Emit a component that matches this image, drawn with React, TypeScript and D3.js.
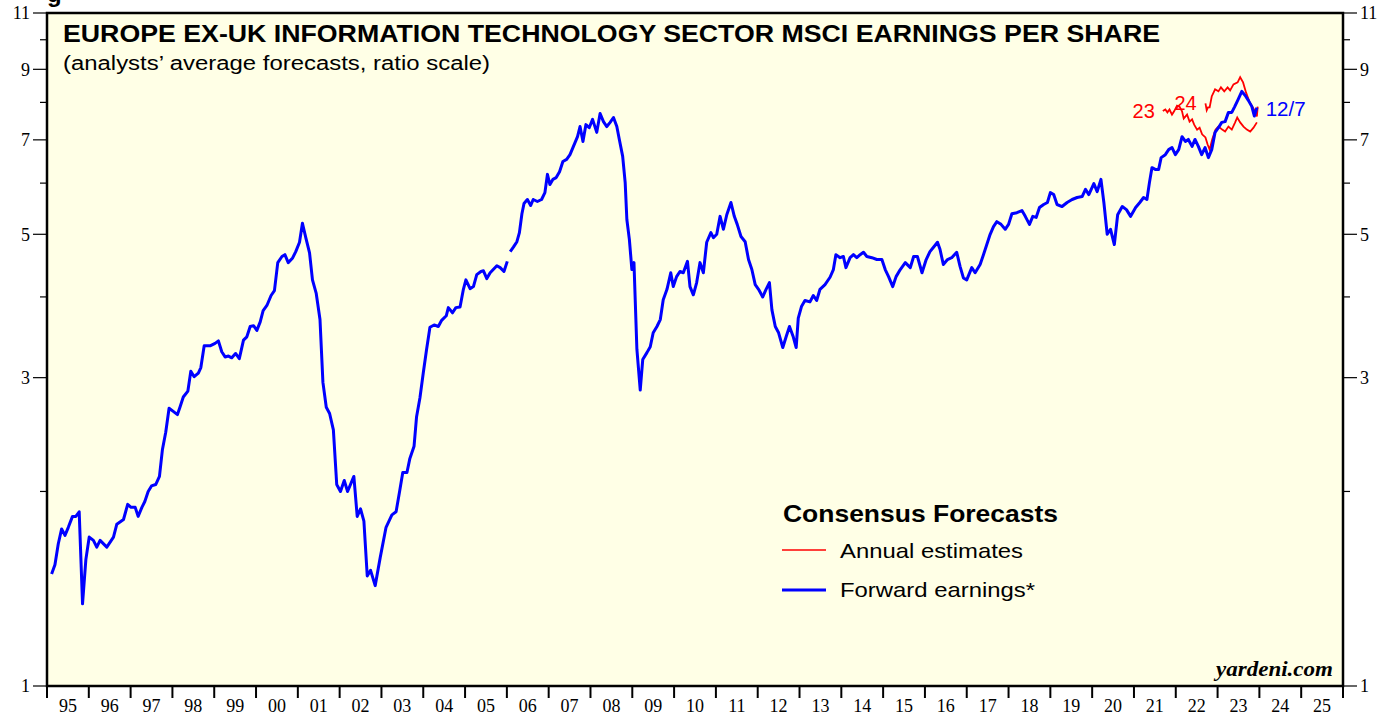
import * as d3 from 'd3';

// [decimal year, EPS]; null marks the break in early 2006
const fwdEarnings: [number, number | null][] = [
  [1995.11, 1.49], [1995.19, 1.54], [1995.27, 1.66], [1995.35, 1.75], [1995.43, 1.71],
  [1995.51, 1.76], [1995.61, 1.83], [1995.69, 1.83], [1995.77, 1.86], [1995.85, 1.34],
  [1995.93, 1.57], [1996.01, 1.70], [1996.11, 1.68], [1996.19, 1.64], [1996.27, 1.68],
  [1996.43, 1.64], [1996.59, 1.70], [1996.67, 1.78], [1996.83, 1.81], [1996.93, 1.91],
  [1997.01, 1.89], [1997.11, 1.89], [1997.18, 1.83], [1997.27, 1.89], [1997.34, 1.93],
  [1997.42, 2.00], [1997.50, 2.04], [1997.60, 2.05], [1997.69, 2.11], [1997.76, 2.32],
  [1997.84, 2.47], [1997.92, 2.69], [1998.02, 2.66], [1998.12, 2.63], [1998.18, 2.70],
  [1998.26, 2.80], [1998.37, 2.86], [1998.44, 3.07], [1998.52, 3.01], [1998.62, 3.05],
  [1998.68, 3.11], [1998.76, 3.36], [1998.90, 3.36], [1999.02, 3.39], [1999.10, 3.42],
  [1999.18, 3.29], [1999.26, 3.23], [1999.34, 3.24], [1999.42, 3.22], [1999.51, 3.27],
  [1999.60, 3.21], [1999.70, 3.43], [1999.78, 3.47], [1999.86, 3.60], [1999.94, 3.61],
  [2000.02, 3.55], [2000.10, 3.66], [2000.17, 3.81], [2000.26, 3.88], [2000.36, 4.02],
  [2000.44, 4.09], [2000.52, 4.52], [2000.62, 4.62], [2000.69, 4.65], [2000.77, 4.52],
  [2000.87, 4.59], [2000.95, 4.70], [2001.04, 4.86], [2001.11, 5.20], [2001.19, 4.94],
  [2001.28, 4.68], [2001.35, 4.25], [2001.44, 4.05], [2001.53, 3.69], [2001.60, 2.95],
  [2001.68, 2.70], [2001.76, 2.64], [2001.85, 2.49], [2001.93, 2.05], [2002.02, 2.00],
  [2002.11, 2.08], [2002.19, 2.00], [2002.34, 2.11], [2002.42, 1.83], [2002.50, 1.88],
  [2002.58, 1.80], [2002.66, 1.48], [2002.74, 1.51], [2002.85, 1.43], [2002.97, 1.58],
  [2003.11, 1.76], [2003.25, 1.84], [2003.35, 1.86], [2003.44, 2.01], [2003.51, 2.14],
  [2003.61, 2.14], [2003.68, 2.25], [2003.78, 2.35], [2003.84, 2.61], [2003.92, 2.79],
  [2004.00, 3.05], [2004.08, 3.32], [2004.16, 3.59], [2004.26, 3.62], [2004.36, 3.60],
  [2004.44, 3.68], [2004.55, 3.74], [2004.60, 3.85], [2004.70, 3.78], [2004.78, 3.85],
  [2004.88, 3.86], [2004.96, 4.11], [2005.02, 4.25], [2005.12, 4.12], [2005.20, 4.15],
  [2005.28, 4.33], [2005.38, 4.38], [2005.44, 4.39], [2005.52, 4.27], [2005.60, 4.36],
  [2005.76, 4.47], [2005.84, 4.44], [2005.93, 4.38], [2006.01, 4.54], [2006.04, null],
  [2006.08, 4.70], [2006.16, 4.78], [2006.24, 4.87], [2006.30, 5.03], [2006.36, 5.38],
  [2006.41, 5.58], [2006.49, 5.66], [2006.57, 5.54], [2006.63, 5.66], [2006.73, 5.62],
  [2006.83, 5.66], [2006.91, 5.80], [2006.97, 6.19], [2007.03, 5.97], [2007.10, 6.08],
  [2007.18, 6.12], [2007.26, 6.25], [2007.34, 6.48], [2007.43, 6.53], [2007.51, 6.64],
  [2007.58, 6.81], [2007.63, 6.93], [2007.69, 7.08], [2007.75, 7.34], [2007.82, 6.96],
  [2007.89, 7.39], [2007.97, 7.31], [2008.05, 7.53], [2008.15, 7.19], [2008.23, 7.69],
  [2008.31, 7.47], [2008.39, 7.34], [2008.47, 7.45], [2008.55, 7.58], [2008.63, 7.34],
  [2008.69, 7.01], [2008.77, 6.60], [2008.83, 6.01], [2008.87, 5.27], [2008.93, 4.91],
  [2008.99, 4.41], [2009.04, 4.52], [2009.11, 3.32], [2009.19, 2.87], [2009.25, 3.20],
  [2009.35, 3.28], [2009.43, 3.35], [2009.50, 3.52], [2009.59, 3.60], [2009.67, 3.69],
  [2009.74, 3.96], [2009.83, 4.11], [2009.92, 4.36], [2009.98, 4.15], [2010.06, 4.30],
  [2010.14, 4.38], [2010.22, 4.36], [2010.32, 4.54], [2010.38, 4.15], [2010.46, 4.03],
  [2010.54, 4.21], [2010.62, 4.52], [2010.70, 4.36], [2010.78, 4.86], [2010.88, 5.03],
  [2010.94, 4.94], [2011.02, 5.00], [2011.10, 5.33], [2011.18, 5.09], [2011.26, 5.36],
  [2011.36, 5.60], [2011.44, 5.33], [2011.51, 5.18], [2011.60, 4.96], [2011.70, 4.87],
  [2011.78, 4.57], [2011.86, 4.41], [2011.94, 4.18], [2012.02, 4.11], [2012.12, 4.00],
  [2012.20, 4.11], [2012.28, 4.21], [2012.34, 3.82], [2012.42, 3.60], [2012.50, 3.52],
  [2012.60, 3.34], [2012.68, 3.47], [2012.76, 3.60], [2012.85, 3.47], [2012.92, 3.34],
  [2012.97, 3.71], [2013.05, 3.87], [2013.13, 3.95], [2013.25, 3.93], [2013.33, 4.02],
  [2013.41, 3.95], [2013.49, 4.11], [2013.61, 4.18], [2013.73, 4.29], [2013.81, 4.41],
  [2013.87, 4.65], [2013.97, 4.60], [2014.05, 4.62], [2014.11, 4.44], [2014.21, 4.60],
  [2014.29, 4.65], [2014.37, 4.60], [2014.45, 4.65], [2014.53, 4.69], [2014.61, 4.62],
  [2014.73, 4.60], [2014.85, 4.57], [2014.97, 4.57], [2015.05, 4.41], [2015.13, 4.30],
  [2015.23, 4.15], [2015.31, 4.30], [2015.41, 4.41], [2015.53, 4.52], [2015.65, 4.44],
  [2015.73, 4.62], [2015.82, 4.62], [2015.93, 4.36], [2016.03, 4.57], [2016.12, 4.70],
  [2016.20, 4.77], [2016.30, 4.86], [2016.36, 4.74], [2016.44, 4.49], [2016.54, 4.57],
  [2016.64, 4.60], [2016.76, 4.69], [2016.84, 4.46], [2016.92, 4.28], [2017.00, 4.25],
  [2017.12, 4.44], [2017.20, 4.36], [2017.32, 4.49], [2017.40, 4.65], [2017.48, 4.82],
  [2017.56, 5.00], [2017.64, 5.14], [2017.72, 5.23], [2017.82, 5.18], [2017.92, 5.09],
  [2018.00, 5.18], [2018.08, 5.38], [2018.20, 5.40], [2018.32, 5.44], [2018.40, 5.33],
  [2018.50, 5.18], [2018.58, 5.33], [2018.66, 5.31], [2018.74, 5.50], [2018.84, 5.56],
  [2018.93, 5.60], [2019.00, 5.80], [2019.08, 5.76], [2019.16, 5.56], [2019.28, 5.52],
  [2019.40, 5.60], [2019.52, 5.66], [2019.64, 5.70], [2019.76, 5.72], [2019.84, 5.87],
  [2019.92, 5.76], [2020.04, 5.99], [2020.12, 5.82], [2020.21, 6.08], [2020.28, 5.60],
  [2020.36, 5.00], [2020.44, 5.09], [2020.53, 4.82], [2020.61, 5.36], [2020.72, 5.52],
  [2020.82, 5.46], [2020.92, 5.33], [2021.04, 5.50], [2021.14, 5.60], [2021.23, 5.70],
  [2021.31, 5.66], [2021.37, 6.01], [2021.43, 6.34], [2021.51, 6.30], [2021.59, 6.30],
  [2021.65, 6.57], [2021.75, 6.64], [2021.83, 6.76], [2021.91, 6.81], [2021.99, 6.64],
  [2022.07, 6.76], [2022.15, 7.08], [2022.23, 6.96], [2022.30, 7.01], [2022.39, 6.84],
  [2022.46, 7.01], [2022.54, 6.84], [2022.62, 6.64], [2022.70, 6.81], [2022.78, 6.57],
  [2022.86, 6.76], [2022.94, 7.19], [2023.02, 7.31], [2023.10, 7.45], [2023.18, 7.47],
  [2023.26, 7.72], [2023.34, 7.72], [2023.41, 7.88], [2023.49, 8.08], [2023.58, 8.32],
  [2023.66, 8.20], [2023.74, 8.05], [2023.82, 7.88], [2023.88, 7.62], [2023.94, 7.85],
];

const est2023: [number, number][] = [
  [2021.69, 7.76], [2021.75, 7.80], [2021.80, 7.72], [2021.85, 7.80], [2021.91, 7.66],
  [2021.96, 7.75], [2022.03, 7.91], [2022.09, 7.88], [2022.15, 7.75], [2022.19, 7.55],
  [2022.27, 7.66], [2022.33, 7.47], [2022.39, 7.53], [2022.44, 7.39], [2022.51, 7.26],
  [2022.57, 7.31], [2022.63, 7.14], [2022.71, 7.06], [2022.76, 6.89], [2022.81, 6.76],
  [2022.87, 7.01], [2022.95, 7.26], [2023.02, 7.34], [2023.11, 7.26], [2023.18, 7.21],
  [2023.26, 7.34], [2023.34, 7.26], [2023.42, 7.45], [2023.47, 7.58], [2023.54, 7.45],
  [2023.62, 7.34], [2023.70, 7.26], [2023.78, 7.21], [2023.86, 7.31], [2023.94, 7.45],
];

const est2024: [number, number][] = [
  [2022.71, 7.97], [2022.74, 7.78], [2022.77, 7.86], [2022.81, 7.86], [2022.86, 8.17],
  [2022.94, 8.38], [2023.02, 8.32], [2023.08, 8.44], [2023.16, 8.32], [2023.24, 8.44],
  [2023.30, 8.35], [2023.38, 8.53], [2023.48, 8.59], [2023.54, 8.75], [2023.61, 8.59],
  [2023.68, 8.29], [2023.76, 8.02], [2023.84, 7.86], [2023.90, 7.75], [2023.94, 7.61],
  [2023.96, 7.88],
];

const years = d3.range(1995, 2026);
const majorTicks = [1, 3, 5, 7, 9, 11];
const minorTicks = [2, 4, 6, 8, 10];

const W = 1398;
const H = 717;
const left = 47;
const right = 1343;
const top = 13;
const bottom = 686;

const serif = '"Liberation Serif", "Times New Roman", serif';
const sans = '"Liberation Sans", Arial, sans-serif';

export default function App() {
  const x = d3.scaleLinear().domain([1995, 2026]).range([left, right]);
  const y = d3.scaleLog().domain([1, 11]).range([bottom, top]);

  const line = d3
    .line<[number, number | null]>()
    .defined(d => d[1] != null)
    .x(d => x(d[0]))
    .y(d => y(d[1] as number));

  return (
    <svg width={W} height={H} style={{ position: 'absolute', left: 0, top: 0, background: '#fff' }}>
      <text x={47} y={2} fontFamily={sans} fontWeight="bold" fontSize={24} fill="#000">g</text>
      <rect x={left} y={top} width={right - left} height={bottom - top} fill="#ffffe6" />

      {/* y axis ticks, both sides */}
      {majorTicks.map(t => (
        <g key={'M' + t}>
          <line x1={left - 14} x2={left} y1={y(t)} y2={y(t)} stroke="#000" strokeWidth={1.2} />
          <line x1={right} x2={right + 14} y1={y(t)} y2={y(t)} stroke="#000" strokeWidth={1.2} />
          <text x={left - 17} y={y(t)} dy="0.35em" textAnchor="end" fontFamily={serif} fontSize={18}>{t}</text>
          <text x={right + 17} y={y(t)} dy="0.35em" textAnchor="start" fontFamily={serif} fontSize={18}>{t}</text>
        </g>
      ))}
      {minorTicks.map(t => (
        <g key={'m' + t}>
          <line x1={left - 7} x2={left} y1={y(t)} y2={y(t)} stroke="#000" strokeWidth={1.2} />
          <line x1={right} x2={right + 7} y1={y(t)} y2={y(t)} stroke="#000" strokeWidth={1.2} />
        </g>
      ))}

      {/* x axis */}
      {years.concat([2026]).map(yr => (
        <line key={'t' + yr} x1={x(yr)} x2={x(yr)} y1={bottom} y2={bottom + 12} stroke="#000" strokeWidth={2} />
      ))}
      {years.map(yr => (
        <text key={'l' + yr} x={x(yr + 0.5)} y={712} textAnchor="middle" fontFamily={serif} fontSize={18}>
          {String(yr % 100).padStart(2, '0')}
        </text>
      ))}

      <text x={63} y={42} fontFamily={sans} fontWeight="bold" fontSize={23} textLength={1097} lengthAdjust="spacingAndGlyphs">
        EUROPE EX-UK INFORMATION TECHNOLOGY SECTOR MSCI EARNINGS PER SHARE
      </text>
      <text x={63} y={70} fontFamily={sans} fontSize={20} textLength={427} lengthAdjust="spacingAndGlyphs">
        (analysts’ average forecasts, ratio scale)
      </text>

      <path d={line(est2023) || ''} fill="none" stroke="#ff0000" strokeWidth={1.8} />
      <path d={line(est2024) || ''} fill="none" stroke="#ff0000" strokeWidth={1.8} />
      <path d={line(fwdEarnings) || ''} fill="none" stroke="#0000ff" strokeWidth={3} strokeLinejoin="round" />

      <text x={x(2021.5)} y={y(7.75)} dy="0.35em" textAnchor="end" fontFamily={sans} fontSize={20} fill="#ff0000">23</text>
      <text x={x(2022.5)} y={y(7.97)} dy="0.35em" textAnchor="end" fontFamily={sans} fontSize={20} fill="#ff0000">24</text>
      <text x={x(2024.15)} y={y(7.8)} dy="0.35em" textAnchor="start" fontFamily={sans} fontSize={20} fill="#0000ff" textLength={40} lengthAdjust="spacingAndGlyphs">12/7</text>

      {/* legend */}
      <text x={783} y={522} fontFamily={sans} fontWeight="bold" fontSize={24} textLength={275} lengthAdjust="spacingAndGlyphs">Consensus Forecasts</text>
      <line x1={782} x2={826} y1={550} y2={550} stroke="#ff0000" strokeWidth={1.6} />
      <text x={840} y={558} fontFamily={sans} fontSize={21} textLength={183} lengthAdjust="spacingAndGlyphs">Annual estimates</text>
      <line x1={782} x2={826} y1={590} y2={590} stroke="#0000ff" strokeWidth={3} />
      <text x={840} y={597} fontFamily={sans} fontSize={21} textLength={195} lengthAdjust="spacingAndGlyphs">Forward earnings*</text>

      <text x={1333} y={676} textAnchor="end" fontFamily={serif} fontStyle="italic" fontWeight="bold" fontSize={21} textLength={117} lengthAdjust="spacingAndGlyphs">yardeni.com</text>

      <rect x={left} y={top} width={right - left} height={bottom - top} fill="none" stroke="#000" strokeWidth={2.5} />
    </svg>
  );
}
